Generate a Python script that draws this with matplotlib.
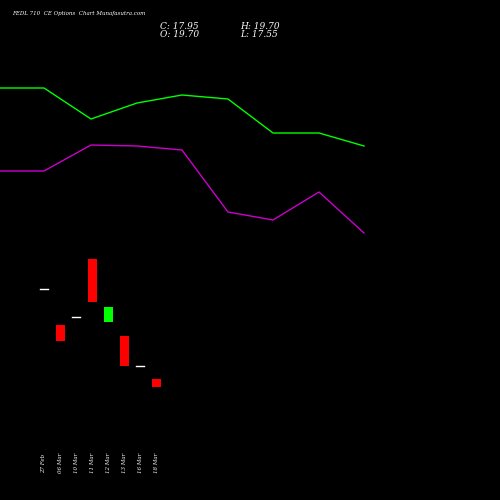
import matplotlib
matplotlib.use("Agg")
import matplotlib.pyplot as plt

dates = ["27 Feb", "06 Mar", "10 Mar", "11 Mar", "12 Mar", "13 Mar", "16 Mar", "18 Mar"]
opens = [289, 325, 317, 259, 322, 336, 366, 379]
closes = [289, 341, 317, 302, 307, 366, 366, 387]
line_x = [0, 44, 91, 137, 182, 228, 273, 319, 364]
green_y = [88, 88, 119, 103, 95, 99, 133, 133, 146]
magenta_y = [171, 171, 145, 146, 150, 212, 220, 192, 233]

fig = plt.figure(figsize=(5, 5), dpi=100, facecolor="black")
ax = fig.add_axes([0, 0, 1, 1], facecolor="black")
ax.set_xlim(0, 500)
ax.set_ylim(500, 0)
ax.axis("off")

ax.plot(line_x, green_y, color="#00ff00", lw=1)
ax.plot(line_x, magenta_y, color="#cc00cc", lw=1)

xs = [44 + 16 * i for i in range(len(dates))]
for x, o, c, d in zip(xs, opens, closes, dates):
    if o == c:
        ax.plot([x - 4, x + 4], [o, o], color="white", lw=1)
    else:
        col = "#00ff00" if c < o else "#ff0000"
        ax.bar(x, abs(c - o), bottom=min(o, c), width=9, color=col)
    ax.text(x, 473, d, color="white", fontsize=4, rotation=90, ha="center", va="bottom", family="serif", style="italic")

ax.text(12, 15, "FEDL 710  CE Options  Chart Munafasutra.com", color="white", fontsize=4, family="serif", style="italic")
ax.text(160, 29, "C: 17.95", color="white", fontsize=6.5, family="serif", style="italic")
ax.text(160, 37, "O: 19.70", color="white", fontsize=6.5, family="serif", style="italic")
ax.text(240, 29, "H: 19.70", color="white", fontsize=6.5, family="serif", style="italic")
ax.text(240, 37, "L: 17.55", color="white", fontsize=6.5, family="serif", style="italic")

fig.savefig("out.png", facecolor="black")
